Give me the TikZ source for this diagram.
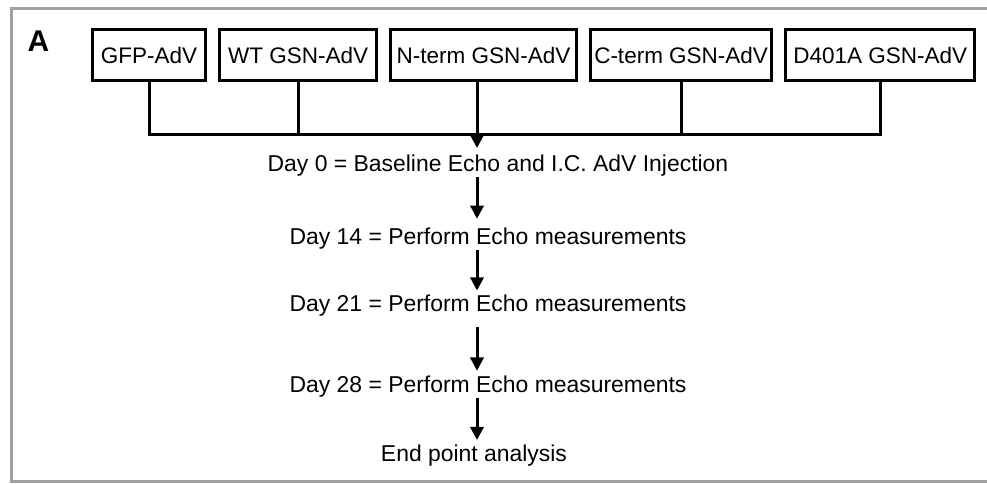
\documentclass[tikz,border=0pt]{standalone}
\usepackage{fontspec}
\setmainfont{Liberation Sans}
\usepackage{xcolor}
\usepackage{tikz}
\usetikzlibrary{arrows.meta, positioning}
\definecolor{framegray}{RGB}{160,160,160}
\tikzset{
  vecbox/.style={rectangle, draw=black, line width=0.075cm, minimum height=1.275cm, inner xsep=2pt, inner ysep=0pt, align=center, font=\fontsize{16}{19}\selectfont},
  steptext/.style={inner sep=0pt, text height=12.2pt, text depth=4pt, font=\fontsize{16.3}{19.5}\selectfont},
  bus/.style={line width=0.075cm},
  arrow/.style={-{Triangle[length=0.33cm, width=0.33cm]}, line width=0.075cm, shorten >=0.1cm},
}

\begin{document}
\begin{tikzpicture}[x=0.025cm, y=-0.025cm, node distance=0.275cm]
\useasboundingbox (0,0) rectangle (987,483);
% panel frame
\draw[framegray, line width=0.075cm] (987,8.5) -- (11.5,8.5) -- (11.5,481.5) -- (987,481.5);
\node (panel) [inner sep=0pt, font=\fontsize{21.3}{24}\selectfont\bfseries] at (38.5,41) {A};
% adenovirus constructs
\node (gfp) [vecbox, minimum width=2.825cm] at (149,55) {GFP-AdV};
\node (wt) [vecbox, minimum width=3.925cm, right=of gfp] {WT GSN-AdV};
\node (nterm) [vecbox, minimum width=4.65cm, right=of wt] {N-term GSN-AdV};
\node (cterm) [vecbox, minimum width=4.525cm, right=of nterm] {C-term GSN-AdV};
\node (dmut) [vecbox, minimum width=4.725cm, right=of cterm] {D401A GSN-AdV};
% timeline
\node (day0) [steptext, below=1.8cm of nterm, xshift=0.36cm] {Day 0 = Baseline Echo and I.C. AdV Injection};
\node (day14) [steptext, below=1.235cm of day0, xshift=-0.25cm] {Day 14 = Perform Echo measurements};
\node (day21) [steptext, below=1.11cm of day14] {Day 21 = Perform Echo measurements};
\node (day28) [steptext, below=1.42cm of day21] {Day 28 = Perform Echo measurements};
\node (endpt) [steptext, below=1.15cm of day28, xshift=-0.35cm] {End point analysis};
\coordinate (spine) at (477,0);
\coordinate (bus) at (0,134);
\draw[bus] (gfp.south) -- (gfp.south |- bus) -- (dmut.south |- bus) -- (dmut.south);
\draw[bus] (wt.south) -- (wt.south |- bus);
\draw[bus] (cterm.south) -- (cterm.south |- bus);
\draw[arrow, shorten >=0.15cm] (nterm.south -| spine) -- (day0.north -| spine);
\draw[arrow, shorten >=0.2cm] (day0.south -| spine) -- (day14.north -| spine);
\draw[arrow] (day14.south -| spine) -- (day21.north -| spine);
\draw[arrow, shorten <=0.22cm] (day21.south -| spine) -- (day28.north -| spine);
\draw[arrow] (day28.south -| spine) -- (endpt.north -| spine);
\end{tikzpicture}
\end{document}
